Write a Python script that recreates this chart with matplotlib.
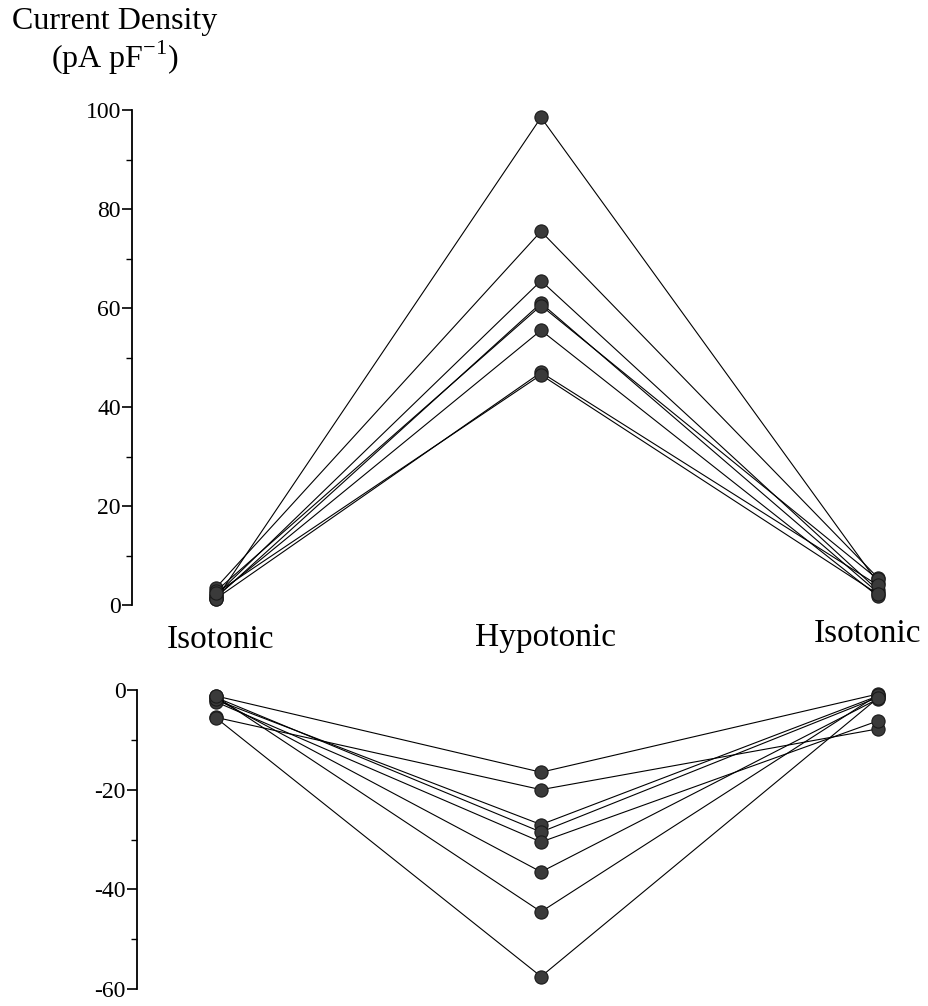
import matplotlib
matplotlib.use('Agg')
import matplotlib.pyplot as plt
from matplotlib.ticker import MultipleLocator

plt.rcParams['font.family'] = ['Liberation Serif', 'DejaVu Serif']
plt.rcParams['mathtext.fontset'] = 'custom'
plt.rcParams['mathtext.rm'] = 'Liberation Serif'
plt.rcParams['axes.unicode_minus'] = False

# Conditions along the x axis
conditions = ['Isotonic', 'Hypotonic', 'Isotonic']

# Outward current density (pA/pF), one entry per cell
out_iso1 = [1.2, 3.5, 2.0, 1.5, 2.8, 1.8, 1.3, 2.4]
out_hypo = [98.5, 75.5, 65.5, 61.0, 60.5, 55.5, 47.0, 46.5]
out_iso2 = [4.5, 5.5, 3.0, 2.5, 5.2, 1.8, 4.0, 2.2]

# Inward current density (pA/pF), one entry per cell
in_iso1 = [-1.2, -5.5, -2.0, -1.5, -2.4, -1.8, -1.3, -5.6]
in_hypo = [-16.5, -20.0, -27.0, -28.5, -30.5, -36.5, -44.5, -57.5]
in_iso2 = [-0.8, -7.8, -1.2, -1.5, -6.2, -1.8, -1.0, -1.6]

fig = plt.figure(figsize=(9.29, 10.06), dpi=100)
ax_top = fig.add_axes([0.1421, 0.3986, 0.8385, 0.4920])
ax_bot = fig.add_axes([0.1475, 0.0169, 0.8331, 0.2972])

# the middle column sits a little left of centre in the original
xpos = [0, 0.982, 2]


def draw_cells(ax, a, b, c):
    for v0, v1, v2 in zip(a, b, c):
        ax.plot(xpos, [v0, v1, v2], '-', color='black', linewidth=0.8,
                marker='o', markersize=9.5, markerfacecolor='#3a3a3a',
                markeredgecolor='#1a1a1a', markeredgewidth=0.8, clip_on=False)


draw_cells(ax_top, out_iso1, out_hypo, out_iso2)
draw_cells(ax_bot, in_iso1, in_hypo, in_iso2)

# Axis styling: only a left spine with outward ticks
for ax in (ax_top, ax_bot):
    for side in ('top', 'right', 'bottom'):
        ax.spines[side].set_visible(False)
    ax.spines['left'].set_linewidth(1.3)
    ax.set_xticks([])
    ax.tick_params(axis='y', which='major', direction='out', length=7,
                   width=1.2, labelsize=17, pad=1)
    ax.tick_params(axis='y', which='minor', direction='out', length=4.5,
                   width=1.0)
    ax.yaxis.set_minor_locator(MultipleLocator(10))
    ax.yaxis.set_major_locator(MultipleLocator(20))

ax_top.set_xlim(-0.254, 2.1)
ax_bot.set_xlim(-0.239, 2.1)
ax_top.set_ylim(0, 100)
ax_bot.set_ylim(-60, 0)

# Condition labels between the two panels
label_x = [221, 546, 868]
label_y = [640, 638, 634]
for name, lx, ly in zip(conditions, label_x, label_y):
    fig.text(lx / 929, 1 - ly / 1006, name, fontsize=24,
             ha='center', va='center')

# Y axis title
fig.text(115 / 929, 1 - 22 / 1006, 'Current Density', fontsize=23,
         ha='center', va='center')
fig.text(115 / 929, 1 - 58 / 1006, r'(pA pF$^{\mathrm{-1}}$)', fontsize=23,
         ha='center', va='center')

fig.savefig('out.png', dpi=100)
